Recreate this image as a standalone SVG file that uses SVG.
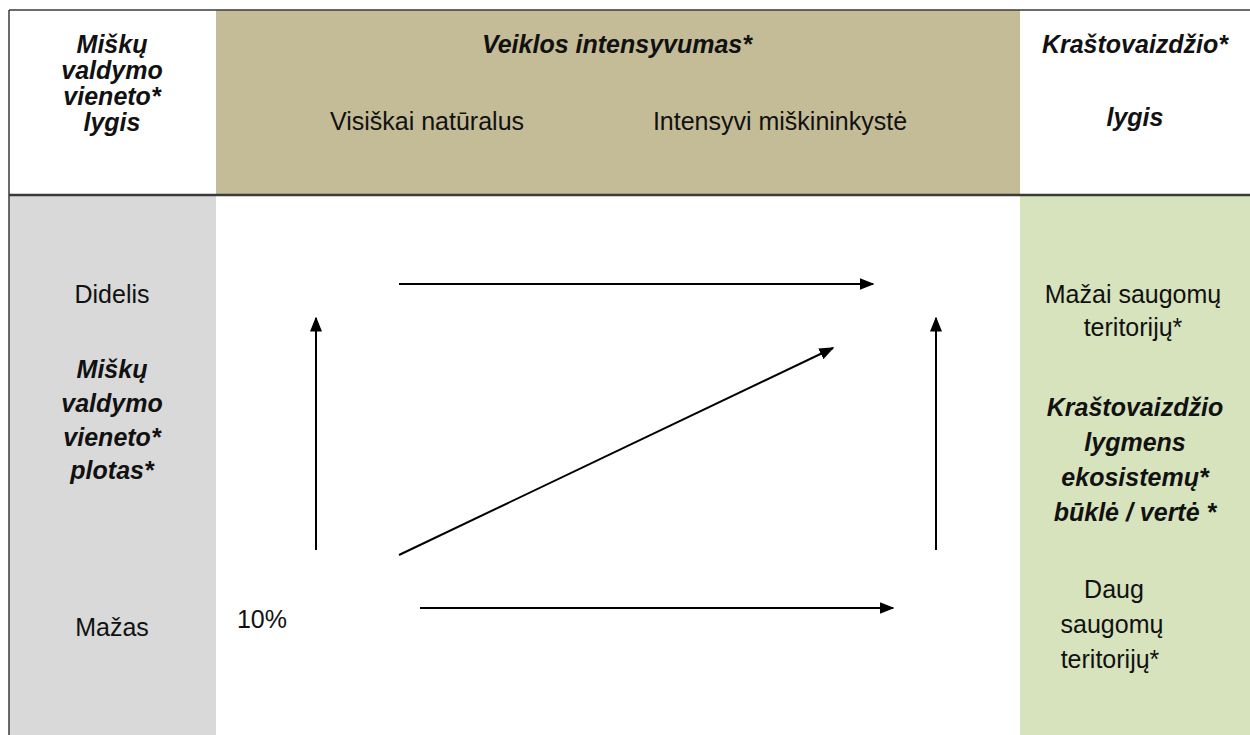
<svg xmlns="http://www.w3.org/2000/svg" width="1250" height="735" viewBox="0 0 1250 735">
<defs>
<style>
.t{font-family:"Liberation Sans",Arial,sans-serif;font-size:25px;fill:#111;text-anchor:middle}
.bi{font-weight:bold;font-style:italic}
.ln{stroke:#000;stroke-width:2;fill:none}
.bd{stroke:#3a3a3a;fill:none}
</style>
<marker id="ah" viewBox="0 0 10 10" refX="9" refY="5" markerWidth="7.5" markerHeight="6" orient="auto" markerUnits="strokeWidth" preserveAspectRatio="none">
<path d="M0,0 L10,5 L0,10 z" fill="#000"/>
</marker>
</defs>
<rect width="1250" height="735" fill="#fff"/>
<g id="header-left">
<rect x="9" y="10" width="207" height="185" fill="#fff"/>
<text class="t bi" x="112" y="53">Miškų</text>
<text class="t bi" x="112" y="79">valdymo</text>
<text class="t bi" x="112" y="105">vieneto*</text>
<text class="t bi" x="112" y="131">lygis</text>
</g>
<g id="header-middle">
<rect x="216" y="10" width="804" height="185" fill="#C4BC96"/>
<text class="t bi" x="617" y="53">Veiklos intensyvumas*</text>
<text class="t" x="427" y="130">Visiškai natūralus</text>
<text class="t" x="780" y="130">Intensyvi miškininkystė</text>
</g>
<g id="header-right">
<rect x="1020" y="10" width="230" height="185" fill="#fff"/>
<text class="t bi" x="1135" y="53">Kraštovaizdžio*</text>
<text class="t bi" x="1135" y="126">lygis</text>
</g>
<g id="left-column">
<rect x="9" y="196" width="207" height="539" fill="#D9D9D9"/>
<text class="t" x="112" y="303">Didelis</text>
<text class="t bi" x="112" y="378">Miškų</text>
<text class="t bi" x="112" y="412">valdymo</text>
<text class="t bi" x="112" y="446">vieneto*</text>
<text class="t bi" x="112" y="479">plotas*</text>
<text class="t" x="112" y="636">Mažas</text>
</g>
<g id="right-column">
<rect x="1020" y="196" width="230" height="539" fill="#D7E3BC"/>
<text class="t" x="1133" y="303">Mažai saugomų</text>
<text class="t" x="1133" y="336">teritorijų*</text>
<text class="t bi" x="1135" y="416">Kraštovaizdžio</text>
<text class="t bi" x="1135" y="451">lygmens</text>
<text class="t bi" x="1135" y="486">ekosistemų*</text>
<text class="t bi" x="1135" y="521">būklė / vertė *</text>
<text class="t" x="1114" y="598">Daug</text>
<text class="t" x="1112" y="633">saugomų</text>
<text class="t" x="1110" y="668">teritorijų*</text>
</g>
<g id="label-10">
<text class="t" x="262" y="628">10%</text>
</g>
<g id="borders">
<line class="bd" x1="9" y1="10" x2="1250" y2="10" stroke-width="1.5"/>
<line class="bd" x1="9" y1="195" x2="1250" y2="195" stroke-width="2.5"/>
<line class="bd" x1="9" y1="10" x2="9" y2="735" stroke-width="1.5"/>
</g>
<g id="connectors">
<line class="ln" x1="399" y1="284" x2="873" y2="284" marker-end="url(#ah)"/>
<line class="ln" x1="316" y1="550" x2="316" y2="318" marker-end="url(#ah)"/>
<line class="ln" x1="399" y1="555" x2="833" y2="348" marker-end="url(#ah)"/>
<line class="ln" x1="936" y1="550" x2="936" y2="318" marker-end="url(#ah)"/>
<line class="ln" x1="420" y1="608" x2="893" y2="608" marker-end="url(#ah)"/>
</g>
</svg>
